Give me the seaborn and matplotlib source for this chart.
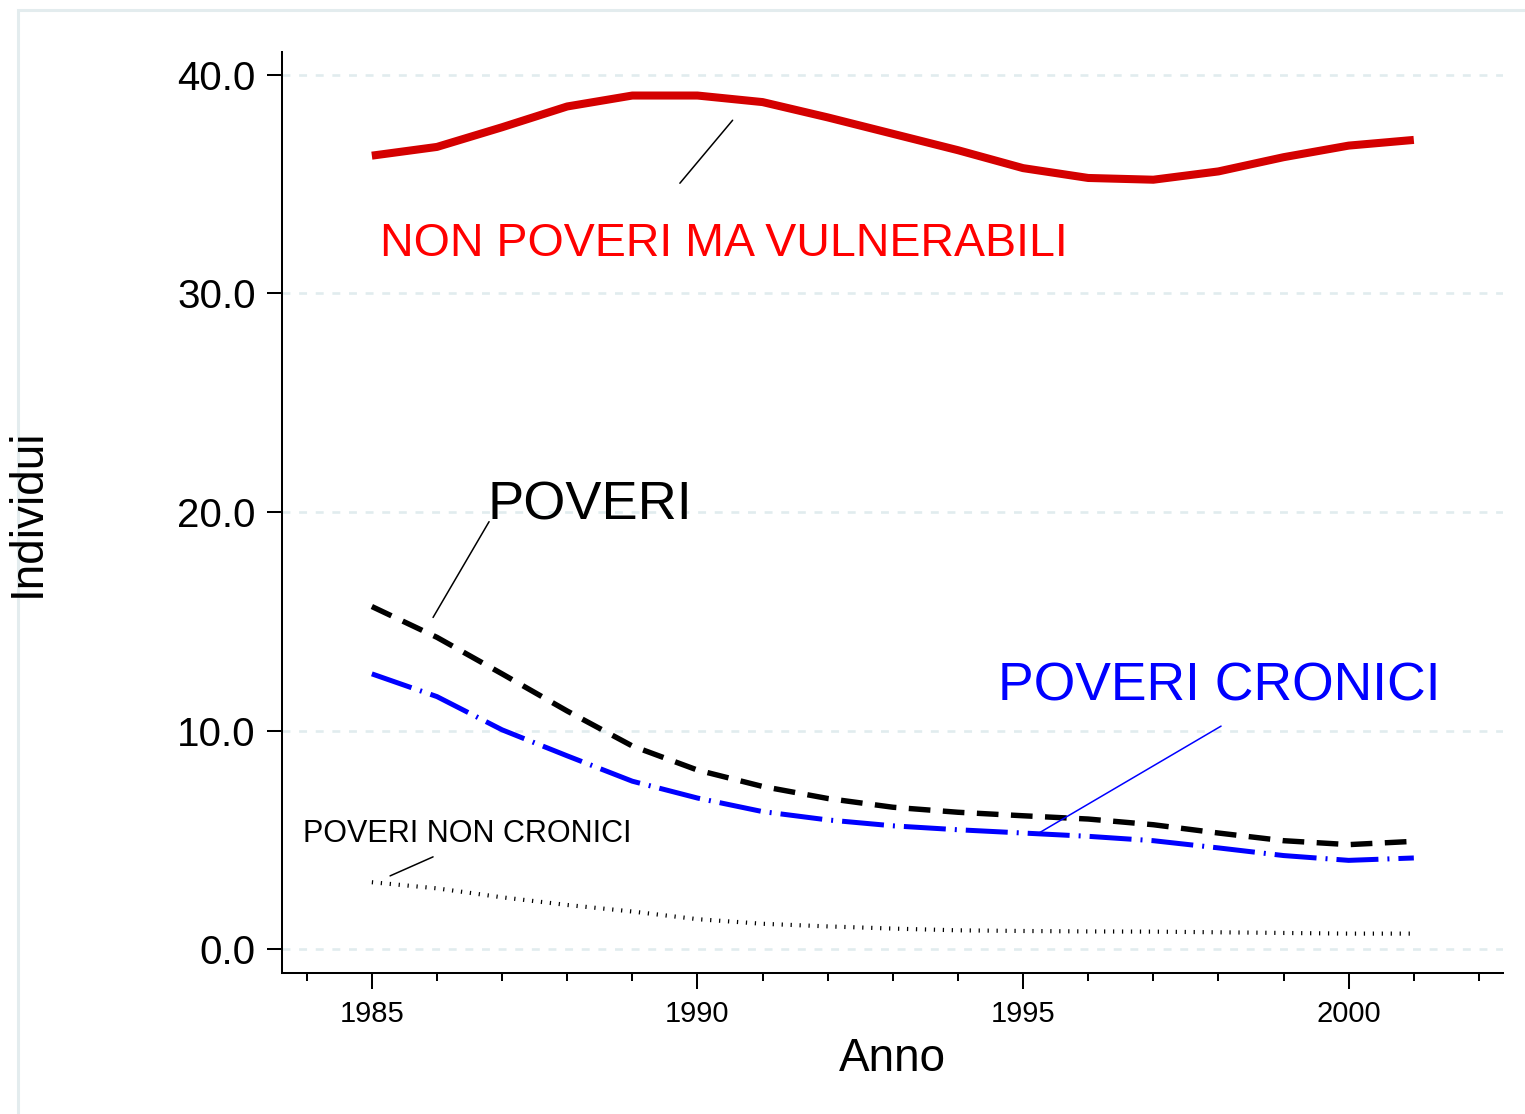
import matplotlib
matplotlib.use("Agg")
import numpy as np
import pandas as pd
import seaborn as sns
import matplotlib.pyplot as plt
from matplotlib.ticker import FixedLocator, MultipleLocator, FormatStrFormatter
from matplotlib.patches import Rectangle

# data (% of individuals)
anni = list(range(1985, 2002))
vulnerabili = [36.3, 36.7, 37.6, 38.55, 39.05, 39.05, 38.75, 38.05, 37.3, 36.55,
               35.73, 35.28, 35.2, 35.58, 36.23, 36.76, 37.02]
poveri = [15.68, 14.27, 12.6, 10.9, 9.3, 8.2, 7.45, 6.9, 6.5, 6.27,
          6.11, 5.96, 5.7, 5.32, 4.97, 4.79, 4.94]
cronici = [12.6, 11.56, 10.04, 8.85, 7.69, 6.92, 6.3, 5.92, 5.65, 5.47,
           5.32, 5.17, 4.97, 4.64, 4.29, 4.07, 4.18]
non_cronici = [3.07, 2.79, 2.38, 2.03, 1.73, 1.38, 1.17, 1.05, 0.95, 0.87,
               0.84, 0.82, 0.81, 0.78, 0.75, 0.72, 0.72]

y_ticks = [0, 10, 20, 30, 40]
x_ticks = [1985, 1990, 1995, 2000]

df = pd.DataFrame({"Anno": anni, "vulnerabili": vulnerabili, "poveri": poveri,
                   "cronici": cronici, "non_cronici": non_cronici})

sns.set_style("white")
plt.rcParams["font.family"] = ["Liberation Sans", "DejaVu Sans"]
plt.rcParams["text.color"] = "black"
plt.rcParams["axes.labelcolor"] = "black"

fig = plt.figure(figsize=(15.25, 11.14), dpi=100)
ax = fig.add_axes([0.1849, 0.1266, 0.8007, 0.8267])

# light outer frame (partly cropped in the original)
fig.add_artist(Rectangle((0.0115, -0.1), 1.2, 1.091, transform=fig.transFigure,
                         fill=False, ec="#E3ECEE", lw=2.2, zorder=0))

sns.lineplot(data=df, x="Anno", y="vulnerabili", ax=ax, color="#D40000",
             linewidth=5.8, solid_capstyle="butt", legend=False)
sns.lineplot(data=df, x="Anno", y="poveri", ax=ax, color="black",
             linewidth=3.9, linestyle=(0, (4.0, 2.3)), legend=False)
sns.lineplot(data=df, x="Anno", y="cronici", ax=ax, color="#0000FF",
             linewidth=3.6, linestyle=(0, (8.4, 1.8, 0.4, 1.8)), legend=False)
sns.lineplot(data=df, x="Anno", y="non_cronici", ax=ax, color="black",
             linewidth=3.0, linestyle=(0, (0.3, 1.85)), legend=False)

ax.set_xlim(1983.62, 2002.37)
ax.set_ylim(-1.08, 41.04)

ax.yaxis.set_major_locator(FixedLocator(y_ticks))
ax.yaxis.set_major_formatter(FormatStrFormatter("%.1f"))
ax.xaxis.set_major_locator(FixedLocator(x_ticks))
ax.xaxis.set_minor_locator(MultipleLocator(1))

ax.yaxis.grid(True, color="#E1ECEE", linewidth=1.9, linestyle=(0, (3.0, 3.3)))
ax.xaxis.grid(False)
ax.set_axisbelow(True)

for side in ["top", "right"]:
    ax.spines[side].set_visible(False)
for side in ["left", "bottom"]:
    ax.spines[side].set_color("black")
    ax.spines[side].set_linewidth(1.45)

ax.tick_params(axis="y", which="major", direction="out", length=11, width=1.45,
               pad=8, labelsize=29, left=True, colors="black")
ax.tick_params(axis="x", which="major", direction="out", length=11.5, width=1.45,
               pad=8, labelsize=21, bottom=True, colors="black")
ax.tick_params(axis="x", which="minor", direction="out", length=5.8, width=1.45,
               bottom=True, colors="black")

ax.set_xlabel("Anno", fontsize=33, color="black")
ax.set_ylabel("Individui", fontsize=33, color="black")
ax.xaxis.set_label_coords(0.5, -0.069)
ax.yaxis.set_label_coords(-0.19, 0.5)

# series labels with leader lines
ax.text(1985.13, 31.71, "NON POVERI MA VULNERABILI", color="#FF0000", fontsize=33.5)
ax.plot([1989.73, 1990.54], [35.04, 37.92], color="black", lw=1.1)

ax.text(1986.78, 19.68, "POVERI", color="black", fontsize=39)
ax.plot([1985.94, 1986.80], [15.18, 19.56], color="black", lw=1.1)

ax.text(1994.61, 11.4, "POVERI CRONICI", color="#0000FF", fontsize=38.5)
ax.plot([1998.04, 1995.22], [10.21, 5.28], color="#0000FF", lw=1.1)

ax.text(1983.95, 4.92, "POVERI NON CRONICI", color="black", fontsize=22)
ax.plot([1985.28, 1985.94], [3.36, 4.23], color="black", lw=1.1)

fig.savefig("out.png", dpi=100)
